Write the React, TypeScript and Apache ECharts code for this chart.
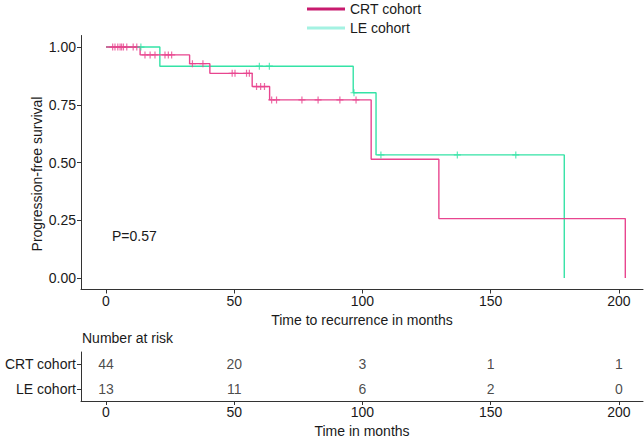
import React, { useEffect, useRef } from "react";
import * as echarts from "echarts";

// ---- Data ----
const cohorts = ["CRT cohort", "LE cohort"];

// Kaplan–Meier steps: [time (months), survival after the event]
const crtSteps: [number, number][] = [
  [0, 1], [13.3, 0.966], [32.6, 0.928], [40.5, 0.886], [57.0, 0.829],
  [63.8, 0.771], [103.4, 0.514], [129.8, 0.257], [202.5, 0],
];
const leSteps: [number, number][] = [
  [0, 1], [21.0, 0.917], [96.4, 0.802], [105.3, 0.533], [178.7, 0],
];

// Censoring times (months)
const crtCensor = [
  2.6, 3.5, 4.6, 5.5, 6.1, 6.8, 8.1, 10.6, 12.0, 15.2, 17.2, 19.1, 23.0, 24.3,
  25.6, 33.7, 37.8, 49.2, 50.3, 54.8, 55.9, 58.7, 60.3, 61.8, 64.6, 66.5, 76.4,
  82.7, 91.2, 97.5,
];
const leCensor = [13.6, 59.8, 63.7, 96.7, 107.2, 137.0, 159.8];

// Number at risk table
const riskTimes = [0, 50, 100, 150, 200];
const crtRisk = [44, 20, 3, 1, 1];
const leRisk = [13, 11, 6, 2, 0];

const xTicks = [0, 50, 100, 150, 200];
const yTicks = [0, 0.25, 0.5, 0.75, 1];
const pValueText = "P=0.57";
const yTitle = "Progression-free survival";

// ---- Styling ----
const CRT_COLOR = "#E8458F";
const LE_COLOR = "#34E3A6";
const CRT_LEGEND = "#C81A6E";
const LE_LEGEND = "#A4F2E2";
const FONT = "Liberation Sans, Arial, Helvetica, sans-serif";
const AXIS_COLOR = "#333333";
const TEXT_COLOR = "#1a1a1a";
const FS = 14;

function survivalAt(steps: [number, number][], t: number): number {
  let s = 1;
  for (const [time, v] of steps) {
    if (time <= t) s = v;
  }
  return s;
}

const CROSS = "path://M5,0L5,10M0,5L10,5";

export default function App() {
  const ref = useRef<HTMLDivElement>(null);

  useEffect(() => {
    if (!ref.current) return;
    const chart = echarts.init(ref.current, null, { renderer: "svg" });

    const xMin = -9.75;
    const xMax = 209.4;

    const axisLabelBase = { fontFamily: FONT, fontSize: FS, color: TEXT_COLOR };
    const axisLineBase = { show: true, onZero: false, lineStyle: { color: AXIS_COLOR, width: 1 } };

    const option: any = {
      animation: false,
      backgroundColor: "#ffffff",
      textStyle: { fontFamily: FONT },
      legend: {
        orient: "vertical",
        left: 307,
        top: 2,
        padding: 0,
        itemWidth: 38,
        itemHeight: 3,
        itemGap: 5,
        icon: "rect",
        textStyle: { fontFamily: FONT, fontSize: FS, color: TEXT_COLOR },
        data: [
          { name: cohorts[0], itemStyle: { color: CRT_LEGEND } },
          { name: cohorts[1], itemStyle: { color: LE_LEGEND } },
        ],
      },
      grid: [
        { left: 81, right: 1, top: 35.5, height: 254 },
        { left: 81, right: 1, top: 352, height: 49 },
      ],
      xAxis: [
        {
          gridIndex: 0,
          type: "value",
          min: xMin,
          max: xMax,
          name: "Time to recurrence in months",
          nameLocation: "middle",
          nameGap: 23,
          nameTextStyle: { fontFamily: FONT, fontSize: FS, color: TEXT_COLOR },
          axisLine: axisLineBase,
          axisTick: { show: true, length: 4, customValues: xTicks, lineStyle: { color: AXIS_COLOR } },
          axisLabel: { ...axisLabelBase, margin: 4, customValues: xTicks },
          splitLine: { show: false },
        },
        {
          gridIndex: 1,
          type: "value",
          min: xMin,
          max: xMax,
          name: "Time in months",
          nameLocation: "middle",
          nameGap: 23,
          nameTextStyle: { fontFamily: FONT, fontSize: FS, color: TEXT_COLOR },
          axisLine: axisLineBase,
          axisTick: { show: true, length: 4, customValues: xTicks, lineStyle: { color: AXIS_COLOR } },
          axisLabel: { ...axisLabelBase, margin: 4, customValues: xTicks },
          splitLine: { show: false },
        },
      ],
      yAxis: [
        {
          gridIndex: 0,
          type: "value",
          min: -0.05,
          max: 1.05,
          axisLine: axisLineBase,
          axisTick: { show: true, length: 4, customValues: yTicks, lineStyle: { color: AXIS_COLOR } },
          axisLabel: {
            ...axisLabelBase,
            margin: 5,
            customValues: yTicks,
            formatter: (v: number) => v.toFixed(2),
          },
          splitLine: { show: false },
        },
        {
          gridIndex: 1,
          type: "category",
          data: cohorts,
          inverse: true,
          axisLine: axisLineBase,
          axisTick: { show: true, length: 4, alignWithLabel: true, lineStyle: { color: AXIS_COLOR } },
          axisLabel: { ...axisLabelBase, margin: 5 },
          splitLine: { show: false },
        },
      ],
      graphic: [
        {
          type: "text",
          left: 82,
          top: 331,
          style: { text: "Number at risk", font: `${FS}px ${FONT}`, fill: TEXT_COLOR },
        },
        {
          type: "text",
          left: 112,
          top: 229,
          style: { text: pValueText, font: `${FS}px ${FONT}`, fill: TEXT_COLOR },
        },
        {
          type: "text",
          x: 37,
          y: 174,
          rotation: Math.PI / 2,
          style: {
            text: yTitle,
            font: `${FS}px ${FONT}`,
            fill: TEXT_COLOR,
            align: "center",
            verticalAlign: "middle",
          },
        },
      ],
      series: [
        {
          name: cohorts[0],
          type: "line",
          step: "end",
          xAxisIndex: 0,
          yAxisIndex: 0,
          showSymbol: false,
          symbol: "none",
          lineStyle: { color: CRT_COLOR, width: 1.4 },
          itemStyle: { color: CRT_COLOR },
          data: crtSteps,
          z: 3,
        },
        {
          name: cohorts[1],
          type: "line",
          step: "end",
          xAxisIndex: 0,
          yAxisIndex: 0,
          showSymbol: false,
          symbol: "none",
          lineStyle: { color: LE_COLOR, width: 1.4 },
          itemStyle: { color: LE_COLOR },
          data: leSteps,
          z: 2,
        },
        {
          name: "CRT censored",
          type: "scatter",
          xAxisIndex: 0,
          yAxisIndex: 0,
          symbol: CROSS,
          symbolSize: 7,
          itemStyle: { color: "rgba(0,0,0,0)", borderColor: CRT_COLOR, borderWidth: 1.2 },
          data: crtCensor.map((t) => [t, survivalAt(crtSteps, t)]),
          z: 4,
        },
        {
          name: "LE censored",
          type: "scatter",
          xAxisIndex: 0,
          yAxisIndex: 0,
          symbol: CROSS,
          symbolSize: 7,
          itemStyle: { color: "rgba(0,0,0,0)", borderColor: LE_COLOR, borderWidth: 1.2 },
          data: leCensor.map((t) => [t, survivalAt(leSteps, t)]),
          z: 4,
        },
        {
          name: "risk",
          type: "scatter",
          xAxisIndex: 1,
          yAxisIndex: 1,
          symbolSize: 1,
          itemStyle: { color: "rgba(0,0,0,0)" },
          label: {
            show: true,
            position: "inside",
            fontFamily: FONT,
            fontSize: FS,
            color: TEXT_COLOR,
            formatter: (p: any) => String(p.value[2]),
          },
          data: [
            ...riskTimes.map((t, i) => [t, cohorts[0], crtRisk[i]]),
            ...riskTimes.map((t, i) => [t, cohorts[1], leRisk[i]]),
          ],
        },
      ],
    };

    chart.setOption(option);
    return () => chart.dispose();
  }, []);

  return (
    <div
      ref={ref}
      style={{ position: "fixed", left: 0, top: 0, width: 644, height: 440, background: "#fff" }}
    />
  );
}
